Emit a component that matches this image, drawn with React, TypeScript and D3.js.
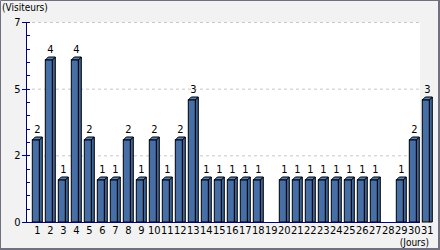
import React from "react";
import * as d3 from "d3";

const days = ["1","2","3","4","5","6","7","8","9","10","11","12","13","14","15","16","17","18","19","20","21","22","23","24","25","26","27","28","29","30","31"];
const visitors = [2,4,1,4,2,1,1,2,1,2,1,2,3,1,1,1,1,1,0,1,1,1,1,1,1,1,1,0,1,2,3];
const yAxisMax = 7;
const yAxisIntervals = 3;
const yMinorPerInterval = 5;
const barScaleMax = 5;
const yTitle = "(Visiteurs)";
const xTitle = "(Jours)";

const W = 440, H = 250;
const PL = 26, PR = 420, PT = 22, PB = 222;
const FONT = "'DejaVu Sans Condensed', 'DejaVu Sans', sans-serif";

export default function App() {
  const yAxis = d3.scaleLinear().domain([0, yAxisMax]).range([PB, PT]);
  const yBar = d3.scaleLinear().domain([0, barScaleMax]).range([PB - 2, PT - 2]);
  const x = d3.scalePoint<string>().domain(days).range([37.3, 427.3]);
  const majorTicks = d3.range(yAxisIntervals + 1).map(i => (i * yAxisMax) / yAxisIntervals);
  const minorTicks = d3.range(yAxisIntervals * yMinorPerInterval + 1).map(i => (i * yAxisMax) / (yAxisIntervals * yMinorPerInterval));
  const fmt = d3.format(".0f");
  const depth = 3;

  return (
    <svg width={W} height={H} style={{ position: "absolute", left: 0, top: 0, display: "block" }}>
      <rect x={0} y={0} width={W} height={H} fill="#f2f2f2" />
      <rect x={PL} y={PT} width={PR - PL} height={PB - PT} fill="#ffffff" />
      {majorTicks.filter(t => t > 0).map((t, i) => (
        <line key={"g" + i} x1={PL} x2={PR} y1={yAxis(t) + 0.5} y2={yAxis(t) + 0.5} stroke="#c8c8c8" strokeDasharray="3,3" />
      ))}
      {minorTicks.map((t, i) => (
        <line key={"m" + i} x1={PL} x2={PL + 4} y1={Math.round(yAxis(t)) + 0.5} y2={Math.round(yAxis(t)) + 0.5} stroke="#000080" />
      ))}
      {majorTicks.map((t, i) => (
        <g key={"t" + i}>
          <line x1={PL - 4} x2={PL + 4} y1={Math.round(yAxis(t)) + 0.5} y2={Math.round(yAxis(t)) + 0.5} stroke="#000080" />
          <text x={20.5} y={yAxis(t) + 4} textAnchor="end" fontFamily={FONT} fontSize={11} fill="#000">{fmt(t)}</text>
        </g>
      ))}
      {days.map((d, i) => {
        const v = visitors[i];
        const cx = x(d)!;
        const fl = cx - 5, fr = cx + 2;
        const top = yBar(v);
        return (
          <g key={"b" + d}>
            {v > 0 && (
              <g stroke="#000" strokeWidth={1} strokeLinejoin="miter">
                <polygon points={`${fr},${PB} ${fr},${top} ${fr + depth},${top - depth} ${fr + depth},${PB}`} fill="#3d6498" />
                <polygon points={`${fl},${top} ${fl + depth},${top - depth} ${fr + depth},${top - depth} ${fr},${top}`} fill="#5a82b8" />
                <rect x={fl} y={top} width={fr - fl} height={PB - top} fill="#456fa6" />
              </g>
            )}
            {v > 0 && (
              <text x={cx} y={top - depth - 4.5} textAnchor="middle" fontFamily={FONT} fontSize={11} fill="#000">{v}</text>
            )}
            <text x={cx} y={233.5} textAnchor="middle" fontFamily={FONT} fontSize={11} fill="#000">{d}</text>
          </g>
        );
      })}
      <line x1={PL + 0.5} x2={PL + 0.5} y1={PT} y2={PB} stroke="#000080" />
      <line x1={PL} x2={PR} y1={PB + 0.5} y2={PB + 0.5} stroke="#000080" />
      <text x={2} y={11} fontFamily={FONT} fontSize={10} fill="#000">{yTitle}</text>
      <text x={429} y={246} textAnchor="end" fontFamily={FONT} fontSize={10} fill="#000">{xTitle}</text>
      <path d={`M0.5,${H} V0.5 H${W - 1}`} fill="none" stroke="#707080" strokeWidth={1} />
      <path d={`M${W - 1},0 V${H - 1} H0`} fill="none" stroke="#707080" strokeWidth={2} />
    </svg>
  );
}
